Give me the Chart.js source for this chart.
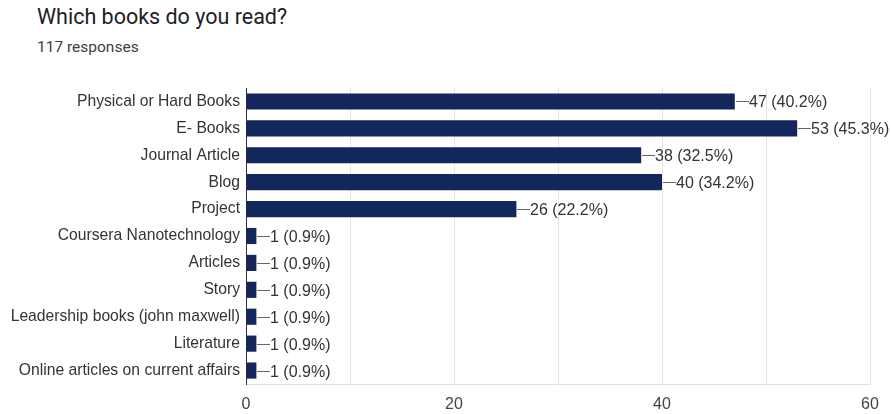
<!DOCTYPE html>
<html>
<head>
<meta charset="utf-8">
<script src="https://cdn.jsdelivr.net/npm/chart.js@4/dist/chart.umd.min.js"></script>
<style>
  html, body { margin: 0; padding: 0; background: #fff; }
  #wrap { position: relative; width: 891px; height: 414px; overflow: hidden; }
  #title { position: absolute; left: 37px; top: 4px; font: 21.5px Roboto, sans-serif; color: #202124; }
  #sub { position: absolute; left: 37px; top: 38px; font: 15.5px Roboto, sans-serif; color: #3c4043; }
  canvas { position: absolute; left: 0; top: 0; }
</style>
</head>
<body>
<div id="wrap">
  <div id="title">Which books do you read?</div>
  <div id="sub">117 responses</div>
  <canvas id="bars" width="891" height="414"></canvas>
</div>
<script>
const categories = [
  'Physical or Hard Books',
  'E- Books',
  'Journal Article',
  'Blog',
  'Project',
  'Coursera Nanotechnology',
  'Articles',
  'Story',
  'Leadership books (john maxwell)',
  'Literature',
  'Online articles on current affairs'
];
const counts = [47, 53, 38, 40, 26, 1, 1, 1, 1, 1, 1];
const percents = ['40.2%', '45.3%', '32.5%', '34.2%', '22.2%', '0.9%', '0.9%', '0.9%', '0.9%', '0.9%', '0.9%'];
const xTicks = [0, 20, 40, 60];

const fontFamily = '"Liberation Sans", Arial, sans-serif';

// count + percentage at the end of each bar, joined by a short line
const endLabels = {
  id: 'endLabels',
  afterDatasetsDraw(chart) {
    const ctx = chart.ctx;
    const meta = chart.getDatasetMeta(0);
    ctx.save();
    ctx.font = '16px ' + fontFamily;
    ctx.textBaseline = 'middle';
    meta.data.forEach((bar, i) => {
      const x = Math.round(bar.x);
      const y = Math.round(bar.y) + 0.5;
      ctx.strokeStyle = '#666';
      ctx.lineWidth = 1;
      ctx.beginPath();
      ctx.moveTo(x + 1, y);
      ctx.lineTo(x + 14, y);
      ctx.stroke();
      ctx.fillStyle = '#333';
      ctx.fillText(counts[i] + ' (' + percents[i] + ')', x + 14, y + 1);
    });
    ctx.restore();
  }
};

document.addEventListener('DOMContentLoaded', function() {
  const ctx = document.getElementById('bars').getContext('2d');
  new Chart(ctx, {
    type: 'bar',
    data: {
      labels: categories,
      datasets: [{
        data: counts,
        backgroundColor: '#14275c',
        categoryPercentage: 0.6,
        barPercentage: 1
      }]
    },
    options: {
      indexAxis: 'y',
      responsive: false,
      animation: false,
      layout: { padding: { top: 88, right: 21, left: 0, bottom: 0 } },
      plugins: {
        legend: { display: false },
        tooltip: { enabled: false }
      },
      scales: {
        x: {
          min: 0,
          max: 60,
          afterBuildTicks: function(scale) {
            scale.ticks = [0, 10, 20, 30, 40, 50, 60].map(v => ({ value: v }));
          },
          afterFit: function(scale) { scale.height = 30; },
          ticks: {
            callback: v => xTicks.includes(v) ? String(v) : '',
            color: '#444',
            font: { family: fontFamily, size: 16 },
            padding: 11,
            maxRotation: 0
          },
          grid: { color: '#e6e6e6', drawTicks: false },
          border: { color: '#e0e0e0' }
        },
        y: {
          afterFit: function(scale) { scale.width = 246; },
          ticks: {
            color: '#333',
            font: { family: fontFamily, size: 15.7 },
            padding: 6,
            autoSkip: false
          },
          grid: { display: false, drawTicks: false },
          border: { color: '#333', width: 1 }
        }
      }
    },
    plugins: [endLabels]
  });
});
</script>
</body>
</html>
